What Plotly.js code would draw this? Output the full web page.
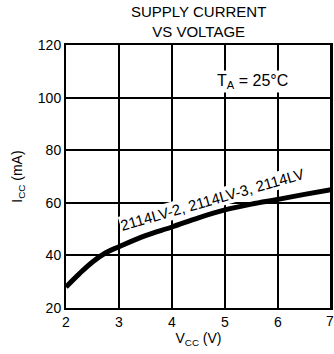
<!DOCTYPE html>
<html>
<head>
<meta charset="utf-8">
<script src="https://cdn.plot.ly/plotly-3.0.1.min.js"></script>
<style>html,body{margin:0;padding:0;background:#fff}#chart{width:334px;height:354px}</style>
</head>
<body>
<div id="chart"></div>
<script>
const vcc = [2, 2.25, 2.5, 2.75, 3, 3.5, 4, 4.5, 5, 5.5, 6, 6.5, 7];
const icc = [28, 33, 37.5, 41, 43.3, 47.5, 50.8, 54.3, 57.3, 59.5, 61.3, 63.2, 65];
const xTicks = [2, 3, 4, 5, 6];
const lastXTick = 7;
const yTicks = [20, 40, 60, 80, 100, 120];
const titleText = 'SUPPLY CURRENT<br>VS VOLTAGE';
const curveLabel = "2114LV-2, 2114LV-3, 2114LV";
const tempLabel = "T<sub>A</sub> = 25°C";

const font = "Liberation Sans, Arial, sans-serif";

Plotly.newPlot('chart', [{
  x: vcc, y: icc, mode: 'lines', type: 'scatter',
  line: {color: '#000', width: 5, shape: 'spline'},
  hoverinfo: 'skip'
}], {
  width: 334, height: 354,
  margin: {l: 66, r: 3, t: 45, b: 46},
  paper_bgcolor: '#fff', plot_bgcolor: '#fff',
  showlegend: false,
  font: {family: font, color: '#000', size: 14},
  xaxis: {
    range: [2, 7], tickvals: xTicks, ticktext: xTicks.map(String),
    showgrid: true, gridcolor: '#000', gridwidth: 2,
    showline: true, linecolor: '#000', linewidth: 2, mirror: true,
    zeroline: false, ticks: '', fixedrange: true,
    tickfont: {size: 14},
    title: {text: 'V<sub>CC</sub> (V)', font: {size: 14}, standoff: 4}
  },
  yaxis: {
    range: [20, 120], tickvals: yTicks, ticktext: yTicks.map(String),
    showgrid: true, gridcolor: '#000', gridwidth: 2,
    showline: true, linecolor: '#000', linewidth: 2, mirror: true,
    zeroline: false, ticks: '', fixedrange: true,
    tickfont: {size: 14},
    title: {text: 'I<sub>CC</sub> (mA)', font: {size: 14}, standoff: 12}
  },
  shapes: [
    {type: 'line', xref: 'x', yref: 'paper', x0: 7, x1: 7, y0: 0, y1: 1, line: {color: '#000', width: 2}}
  ],
  annotations: [
    {x: 0.5, y: 1.088, xref: 'paper', yref: 'paper', text: titleText, showarrow: false,
     xanchor: 'center', yanchor: 'middle', font: {size: 15, color: '#000', family: font}},
    {x: lastXTick, y: 0, xref: 'x', yref: 'paper', text: String(lastXTick), showarrow: false,
     xanchor: 'center', yanchor: 'top', yshift: -3, xshift: -1, font: {size: 14, color: '#000', family: font}},
    {x: 4.75, y: 61.4, xref: 'x', yref: 'y', text: curveLabel, showarrow: false,
     textangle: -16, font: {size: 15, color: '#000', family: font}, bgcolor: '#fff', borderpad: 0},
    {x: 5.52, y: 106, xref: 'x', yref: 'y', text: tempLabel, showarrow: false,
     font: {size: 16, color: '#000', family: font}, bgcolor: '#fff', borderpad: 1}
  ]
}, {displayModeBar: false, staticPlot: true});
</script>
</body>
</html>
